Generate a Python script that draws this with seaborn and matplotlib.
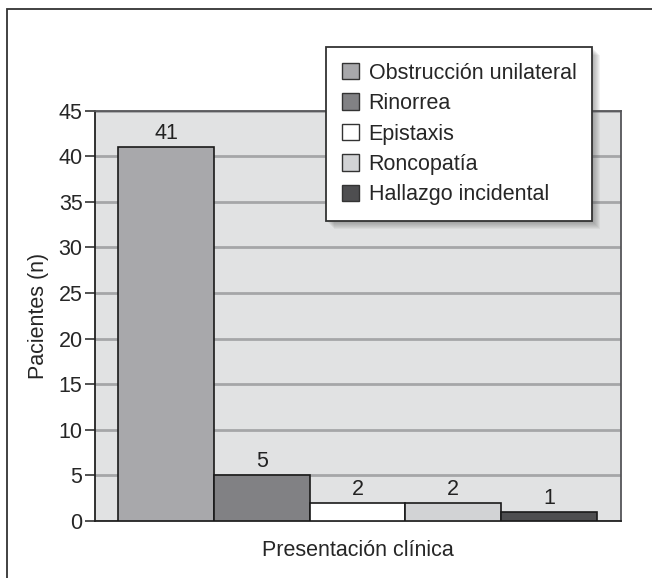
import pandas as pd
import seaborn as sns
import matplotlib.pyplot as plt
from matplotlib.patches import Rectangle

# data
categorias = ["Obstrucción unilateral", "Rinorrea", "Epistaxis", "Roncopatía", "Hallazgo incidental"]
pacientes = [41, 5, 2, 2, 1]
colores = ["#a7a8ab", "#808184", "#ffffff", "#d2d3d5", "#4e4e50"]
y_ticks = [0, 5, 10, 15, 20, 25, 30, 35, 40, 45]

df = pd.DataFrame({"Presentación": categorias, "Pacientes": pacientes})

sns.set_style("white")
plt.rcParams["font.family"] = ["Liberation Sans", "DejaVu Sans"]

fig = plt.figure(figsize=(6.52, 5.78), dpi=100)
ax = fig.add_axes([95 / 652, 1 - 521 / 578, 526 / 652, 410.3 / 578])
ax.set_facecolor("#e1e2e3")

sns.barplot(data=df, x="Presentación", y="Pacientes", hue="Presentación",
            palette=dict(zip(categorias, colores)), width=1.0,
            edgecolor="#1a1a1a", linewidth=1.2, legend=True, ax=ax, zorder=3)

ax.set_ylim(0, 45)
ax.set_xlim(-0.744, 4.754)
ax.set_yticks(y_ticks)
ax.yaxis.grid(True, color="#a5a6a8", linewidth=2, zorder=0)
ax.set_axisbelow(True)
ax.tick_params(axis="y", length=7, width=1.2, color="#333333", labelsize=15.5, pad=2, left=True)
ax.set_xticks([])
for side in ["left", "bottom"]:
    ax.spines[side].set_color("#222222")
    ax.spines[side].set_linewidth(1.3)
for side in ["top", "right"]:
    ax.spines[side].set_color("#555558")
    ax.spines[side].set_linewidth(1.3)

for i, v in enumerate(pacientes):
    ax.text(i, v + 0.35, str(v), ha="center", va="bottom", fontsize=15.5, color="#222222")

ax.set_ylabel("Pacientes (n)", fontsize=15.5, labelpad=7)
ax.set_xlabel("Presentación clínica", fontsize=15.5, labelpad=14)

leg = ax.legend(loc="upper right", bbox_to_anchor=(0.945, 1.155), fontsize=15.5,
                frameon=True, fancybox=False,
                handlelength=0.8, handleheight=0.8, handletextpad=0.45,
                labelspacing=0.44, borderpad=0.72, borderaxespad=0)
leg.set_zorder(6)
leg.get_frame().set_edgecolor("#333333")
leg.get_frame().set_linewidth(1.3)
leg.get_frame().set_facecolor("white")
leg.get_frame().set_alpha(1)
for h in leg.legend_handles:
    h.set_edgecolor("#333333")
    h.set_linewidth(1.0)

# soft shadow under the legend box
fig.canvas.draw()
bb = leg.get_window_extent()
for k in range(1, 9):
    ax.add_patch(Rectangle((bb.x0 + k, bb.y0 - k), bb.width, bb.height, transform=None,
                           facecolor="#555555", edgecolor="none", alpha=0.07,
                           zorder=5, clip_on=False))

# outer frame (only top and left edges visible)
fig.add_artist(Rectangle((7 / 652, -0.1), 1.2, 1.1 - 9 / 578, transform=fig.transFigure,
                         fill=False, edgecolor="#333333", linewidth=1.3))

fig.savefig("out.png", dpi=100)
